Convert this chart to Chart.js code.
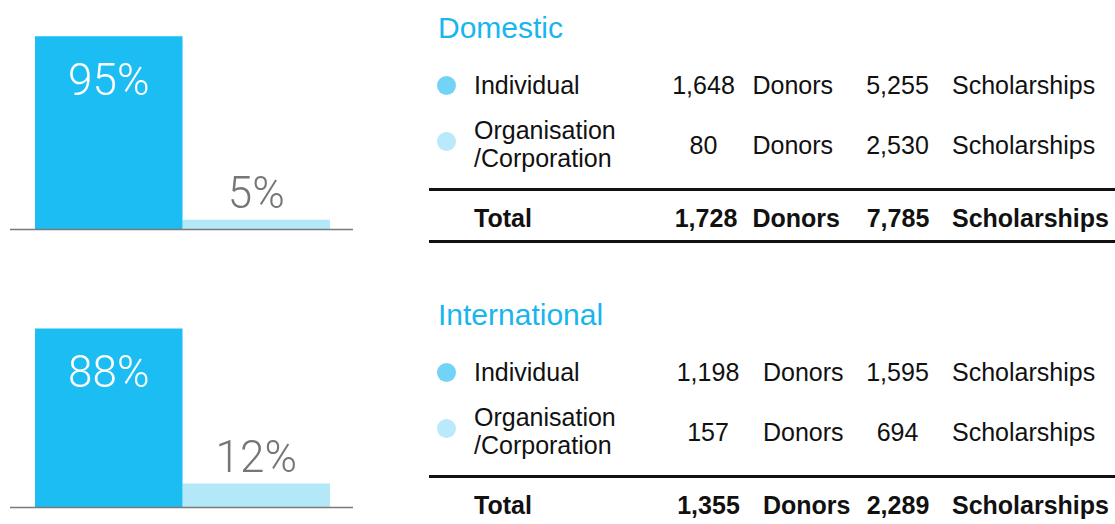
<!DOCTYPE html>
<html>
<head>
<meta charset="utf-8">
<script src="https://cdn.jsdelivr.net/npm/chart.js@4"></script>
<style>
  html, body { margin: 0; padding: 0; background: #fff; }
  #wrap { position: relative; width: 1115px; height: 524px; overflow: hidden; }
  .chart { position: absolute; left: 0; }
  .t { position: absolute; font: 25px/28px "Liberation Sans", Arial, sans-serif; color: #111; white-space: nowrap; }
  .b { font-weight: bold; }
  .c { transform: translateX(-50%); }
  .title { font-size: 30px; line-height: 32px; color: #19b5ee; }
  .dot { position: absolute; width: 19px; height: 19px; border-radius: 50%; }
  .rule { position: absolute; left: 429px; width: 686px; height: 3px; background: #111; }
</style>
</head>
<body>
<div id="wrap">
  <canvas id="chart0" class="chart" width="370" height="245" style="top:0"></canvas>
  <canvas id="chart1" class="chart" width="370" height="245" style="top:280px"></canvas>
</div>
<script>
const groups = ['Domestic', 'International'];
const individualShare = [95, 88];
const organisationShare = [5, 12];

const donorsIndividual = [1648, 1198];
const donorsOrganisation = [80, 157];
const donorsTotal = [1728, 1355];
const scholarshipsIndividual = [5255, 1595];
const scholarshipsOrganisation = [2530, 694];
const scholarshipsTotal = [7785, 2289];

const blue = '#1bbdf3';
const lightBlue = '#b3e8f9';

// grey line under the two bars
const baseline = {
  id: 'baseline',
  afterDatasetsDraw(chart) {
    const { ctx, chartArea } = chart;
    ctx.save();
    ctx.strokeStyle = '#7a7a7a';
    ctx.lineWidth = 1.5;
    ctx.beginPath();
    ctx.moveTo(chartArea.left - 1, chartArea.bottom - 0.5);
    ctx.lineTo(chartArea.right - 1, chartArea.bottom - 0.5);
    ctx.stroke();
    ctx.restore();
  }
};

// first bar gets its value inside, second one above
const pctLabels = {
  id: 'pctLabels',
  afterDatasetsDraw(chart) {
    const { ctx } = chart;
    ctx.save();
    ctx.font = '300 44px Roboto';
    ctx.textAlign = 'center';
    ctx.textBaseline = 'alphabetic';
    chart.data.datasets.forEach((ds, di) => {
      const bar = chart.getDatasetMeta(di).data[0];
      const text = ds.data[0] + '%';
      if (di === 0) {
        ctx.fillStyle = '#ffffff';
        ctx.fillText(text, bar.x, bar.y + 59);
      } else {
        ctx.fillStyle = '#767676';
        ctx.fillText(text, bar.x, bar.y - 12);
      }
    });
    ctx.restore();
  }
};

function makeChart(i, padTop, padBottom) {
  return new Chart(document.getElementById('chart' + i), {
    type: 'bar',
    data: {
      labels: [groups[i]],
      datasets: [
        { label: 'Individual', data: [individualShare[i]], backgroundColor: blue },
        { label: 'Organisation/Corporation', data: [organisationShare[i]], backgroundColor: lightBlue }
      ]
    },
    options: {
      responsive: false,
      animation: false,
      layout: { padding: { left: 11, right: 16, top: padTop, bottom: padBottom } },
      datasets: { bar: { categoryPercentage: 0.86, barPercentage: 1 } },
      scales: {
        x: { display: false },
        y: { display: false, min: 0, max: 100 }
      },
      plugins: { legend: { display: false }, tooltip: { enabled: false } }
    },
    plugins: [baseline, pctLabels]
  });
}

makeChart(0, 26, 15);
makeChart(1, 24, 17);

// tables on the right
const wrap = document.getElementById('wrap');
const fmt = n => n.toLocaleString('en-US');

function add(cls, text, left, top, bold) {
  const el = document.createElement('div');
  el.className = 't ' + cls + (bold ? ' b' : '');
  el.innerHTML = text;
  el.style.left = left + 'px';
  el.style.top = top + 'px';
  wrap.appendChild(el);
  return el;
}

function dot(color, cx, cy) {
  const el = document.createElement('div');
  el.className = 'dot';
  el.style.background = color;
  el.style.left = (cx - 9.5) + 'px';
  el.style.top = (cy - 9.5) + 'px';
  wrap.appendChild(el);
}

function rule(top) {
  const el = document.createElement('div');
  el.className = 'rule';
  el.style.top = top + 'px';
  wrap.appendChild(el);
}

const sections = [
  { top: 0, numX: 703.5, totX: 706, donorsX: 752.5 },
  { top: 287, numX: 708, totX: 708.5, donorsX: 763 }
];

sections.forEach((s, i) => {
  const y = s.top;
  add('title', groups[i], 438, y + 12);

  dot('#73d3f7', 446, y + 85);
  add('', 'Individual', 474, y + 70.5);
  add('c', fmt(donorsIndividual[i]), s.numX, y + 70.5);
  add('', 'Donors', s.donorsX, y + 70.5);
  add('c', fmt(scholarshipsIndividual[i]), 897.5, y + 70.5);
  add('', 'Scholarships', 952, y + 70.5);

  dot('#b9e9fa', 446, y + 141.5);
  add('', 'Organisation<br>/Corporation', 474, y + 116);
  add('c', fmt(donorsOrganisation[i]), s.numX, y + 130.5);
  add('', 'Donors', s.donorsX, y + 130.5);
  add('c', fmt(scholarshipsOrganisation[i]), 897.5, y + 130.5);
  add('', 'Scholarships', 952, y + 130.5);

  rule(y + 188);
  add('', 'Total', 474, y + 204, true);
  add('c', fmt(donorsTotal[i]), s.totX, y + 204, true);
  add('', 'Donors', s.donorsX, y + 204, true);
  add('c', fmt(scholarshipsTotal[i]), 898, y + 204, true);
  add('', 'Scholarships', 952, y + 204, true);
  rule(y + 240);
});
</script>
</body>
</html>
